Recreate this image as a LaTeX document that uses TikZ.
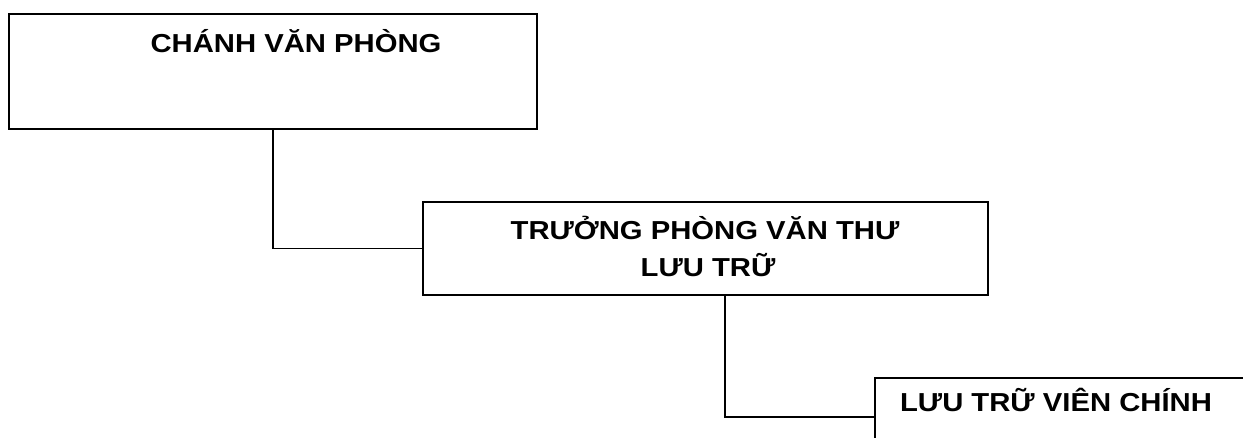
\documentclass[tikz,border=0pt]{standalone}
\usepackage{fontspec}
\usepackage{graphicx}
\setmainfont{Liberation Sans}
\newcommand{\widetxt}[1]{\scalebox{1.125}[1]{#1}}
\tikzset{
  boxnode/.style={draw=black, line width=1.8pt, inner sep=0pt, fill=none},
  lbl/.style={font=\bfseries\fontsize{26}{31}\selectfont, inner sep=0pt, anchor=base},
  link/.style={draw=black, line width=1.8pt}
}
\begin{document}
\begin{tikzpicture}[x=1pt, y=-1pt]
\useasboundingbox (0,0) rectangle (1243,438);
\clip (0,0) rectangle (1243,438);
\fill[white] (0,0) rectangle (1243,438);
% boxes
\node[boxnode, minimum width=528pt, minimum height=115pt] (box1) at (273,71.5) {};
\node[boxnode, minimum width=565pt, minimum height=93pt] (box2) at (705.5,248.5) {};
\node[boxnode, minimum width=440pt, minimum height=78pt] (box3) at (1095,417) {};
% texts
\node[lbl] (t1) at (296,53) {\widetxt{CHÁNH VĂN PHÒNG}};
\node[lbl] (t2a) at (705,240) {\widetxt{TRƯỞNG PHÒNG VĂN THƯ}};
\node[lbl] (t2b) at (708,277) {\widetxt{LƯU TRỮ}};
\node[lbl] (t3) at (1056,412) {\widetxt{LƯU TRỮ VIÊN CHÍNH}};
% connectors
\coordinate (c2) at (725,295);
\draw[link] (box1.south) |- (box2.west);
\draw[link] (c2) |- (box3.west);
\end{tikzpicture}
\end{document}
